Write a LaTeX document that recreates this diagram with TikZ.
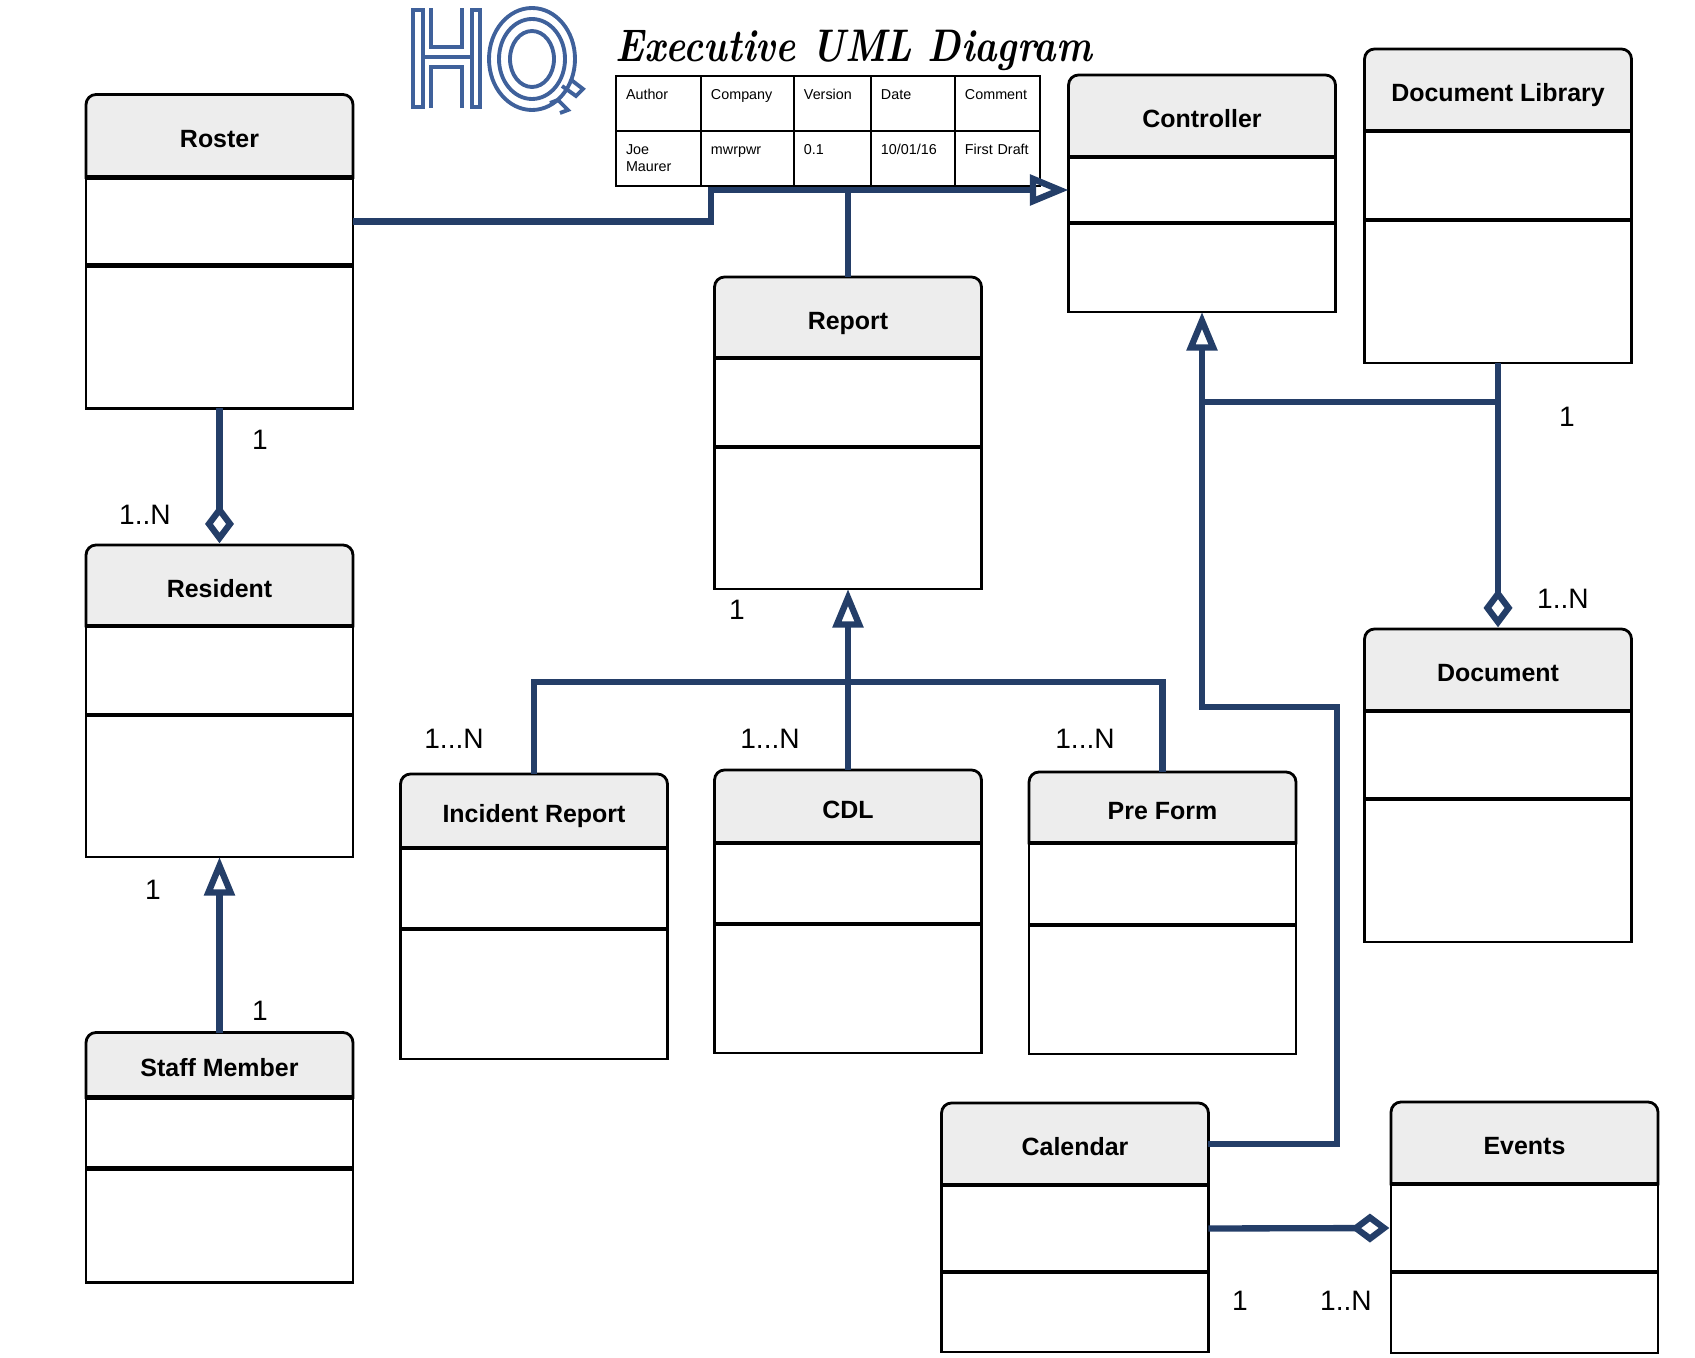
\documentclass[tikz,border=0pt]{standalone}
\usepackage{fontspec}
\setsansfont{Liberation Sans}
\usetikzlibrary{positioning,arrows.meta,backgrounds}
\definecolor{connblue}{HTML}{243E68}
\definecolor{logoblue}{HTML}{3F619B}
\definecolor{headgray}{HTML}{EDEDED}

\begin{document}
\begin{tikzpicture}[
    x=0.02cm,y=-0.02cm,
    classhead/.style={rectangle, minimum width=5.34cm, minimum height=#1*0.02cm, inner sep=0pt, outer sep=0pt, text height=13.5pt, text depth=0pt, font=\sffamily\bfseries\fontsize{14.2}{16}\selectfont},
    classpart/.style={rectangle, draw=black, line width=1.6pt, minimum width=5.34cm, minimum height=#1*0.02cm, inner sep=0pt, outer sep=0pt},
    tablecell/.style={rectangle, draw=black, line width=1.1pt, text width=(#1-20)*0.02cm, inner xsep=0.2cm, inner ysep=0pt, outer sep=0pt, text height=0.48cm, text depth=0.62cm, align=left, font=\sffamily\fontsize{8.16}{9.64}\selectfont},
    multlabel/.style={inner sep=0pt, font=\sffamily\fontsize{16}{18}\selectfont},
    conn/.style={draw=connblue, line width=3.6pt},
    inherit/.style={conn, -{Triangle[open, length=22pt, width=17pt]}},
    aggregate/.style={conn, shorten >=1pt, -{Diamond[open, length=22pt, width=16.5pt]}},
    logoline/.style={draw=logoblue, line width=2.2pt},
    ]
\useasboundingbox (0,0) rectangle (1695,1358);

%Logo
\draw[logoline] (412.7,10) rectangle (423.3,107);
\draw[logoline] (471.7,10) rectangle (480,107);
\draw[logoline] (423.3,57.3) -- (471.7,57.3);
\draw[logoline] (430.7,8.5) -- (430.7,47.3) -- (462.3,47.3) -- (462.3,8.5);
\draw[logoline] (430.7,108) -- (430.7,67.3) -- (462.3,67.3) -- (462.3,108);
\draw[logoline] (532,59) ellipse [x radius=43, y radius=51];
\draw[logoline] (532,59) ellipse [x radius=33, y radius=40];
\draw[logoline] (532,59) ellipse [x radius=22, y radius=28];
\draw[logoline] (562,86) -- (576,96) -- (583,89) -- (570,79);
\draw[logoline] (550,103) -- (558,100) -- (568,110) -- (560,113);

%Title and table
\node (Title) at (854,50) {\scalebox{0.83}[1]{\fontsize{26}{30}\selectfont\bfseries\itshape Executive UML Diagram}};
\node[tablecell=85, anchor=north west] (Author) at (616,76) {Author};
\node[tablecell=93, right=0pt of Author] (Company) {Company};
\node[tablecell=77, right=0pt of Company] (Version) {Version};
\node[tablecell=84, right=0pt of Version] (Date) {Date};
\node[tablecell=85, right=0pt of Date] (Comment) {Comment};
\node[tablecell=85, below=0pt of Author] (AuthorVal) {Joe\\Maurer};
\node[tablecell=93, right=0pt of AuthorVal] (CompanyVal) {mwrpwr};
\node[tablecell=77, right=0pt of CompanyVal] (VersionVal) {0.1};
\node[tablecell=84, right=0pt of VersionVal] (DateVal) {10/01/16};
\node[tablecell=85, right=0pt of DateVal] (CommentVal) {First Draft};

%Nodes
\node[classhead=83]      (Roster)       at (219.5,136)  {Roster};
\node[classpart=88]      (RosterAttr)   [below=0pt of Roster] {};
\node[classpart=143]     (RosterOps)    [below=0pt of RosterAttr] {};
\node[classhead=81]      (Resident)     at (219.5,585.5) {Resident};
\node[classpart=89]      (ResidentAttr) [below=0pt of Resident] {};
\node[classpart=142]     (ResidentOps)  [below=0pt of ResidentAttr] {};
\node[classhead=65]      (Staff)        at (219.5,1065) {Staff Member};
\node[classpart=71]      (StaffAttr)    [below=0pt of Staff] {};
\node[classpart=114]     (StaffOps)     [below=0pt of StaffAttr] {};
\node[classhead=81]      (Report)       at (848,317.5)  {Report};
\node[classpart=89]      (ReportAttr)   [below=0pt of Report] {};
\node[classpart=142]     (ReportOps)    [below=0pt of ReportAttr] {};
\node[classhead=82]      (Controller)   at (1202,116)   {Controller};
\node[classpart=66]      (ControllerAttr) [below=0pt of Controller] {};
\node[classpart=89]      (ControllerOps) [below=0pt of ControllerAttr] {};
\node[classhead=82]      (Library)      at (1498,90)    {Document Library};
\node[classpart=89]      (LibraryAttr)  [below=0pt of Library] {};
\node[classpart=143]     (LibraryOps)   [below=0pt of LibraryAttr] {};
\node[classhead=82]      (Document)     at (1498,670)   {Document};
\node[classpart=88]      (DocumentAttr) [below=0pt of Document] {};
\node[classpart=143]     (DocumentOps)  [below=0pt of DocumentAttr] {};
\node[classhead=74]      (Incident)     at (534,811)    {Incident Report};
\node[classpart=81]      (IncidentAttr) [below=0pt of Incident] {};
\node[classpart=130]     (IncidentOps)  [below=0pt of IncidentAttr] {};
\node[classhead=73]      (CDL)          at (848,806.5)  {CDL};
\node[classpart=81]      (CDLAttr)      [below=0pt of CDL] {};
\node[classpart=129]     (CDLOps)       [below=0pt of CDLAttr] {};
\node[classhead=71]      (PreForm)      at (1162.5,807.5) {Pre Form};
\node[classpart=82]      (PreFormAttr)  [below=0pt of PreForm] {};
\node[classpart=129]     (PreFormOps)   [below=0pt of PreFormAttr] {};
\node[classhead=82]      (Calendar)     at (1075,1144)  {Calendar};
\node[classpart=87]      (CalendarAttr) [below=0pt of Calendar] {};
\node[classpart=80]      (CalendarOps)  [below=0pt of CalendarAttr] {};
\node[classhead=82]      (Events)       at (1524.5,1143) {Events};
\node[classpart=88]      (EventsAttr)   [below=0pt of Events] {};
\node[classpart=81]      (EventsOps)    [below=0pt of EventsAttr] {};

%Rounded tops and thick separators
\begin{scope}[on background layer]
\foreach \cls in {Roster,Resident,Staff,Report,Controller,Library,Document,Incident,CDL,PreForm,Calendar,Events}
    \draw[fill=headgray, line width=1.6pt] (\cls.south west) [rounded corners=0.2cm] -- (\cls.north west) -- (\cls.north east) [sharp corners] -- (\cls.south east) -- cycle;
\end{scope}
\foreach \cls in {Roster,Resident,Staff,Report,Controller,Library,Document,Incident,CDL,PreForm,Calendar,Events}
    \draw[line width=2.4pt] (\cls.south west) -- (\cls.south east) (\cls Attr.south west) -- (\cls Attr.south east);

%Bend points
\coordinate (rosterStep) at (711,190);
\coordinate (calendarBend) at (1337,707);
\coordinate (libraryJoin) at (1498,402);
\coordinate (reportBus) at (848,682);

%Lines
\draw[inherit] (RosterAttr.east) -| (rosterStep) -- (ControllerAttr.west);
\draw[conn] (Report.north) -- (Report.north |- ControllerAttr.west);
\draw[aggregate] (RosterOps.south) -- (Resident.north);
\draw[inherit] (Staff.north) -- (ResidentOps.south);
\draw[inherit] (CDL.north) -- (ReportOps.south);
\draw[conn] (Incident.north) |- (reportBus);
\draw[conn] (PreForm.north) |- (reportBus);
\draw[aggregate] (LibraryOps.south) -- (Document.north);
\draw[conn] (libraryJoin) -- (ControllerOps.south |- libraryJoin);
\draw[inherit] (Calendar.east) -| (calendarBend) -| (ControllerOps.south);
\draw[aggregate] (CalendarAttr.east) -- (EventsAttr.west);

%Multiplicities
\node[multlabel] (RosterOne)    at (260,440)  {1};
\node[multlabel] (ResidentMany) at (145,515)  {1..N};
\node[multlabel] (ResidentOne)  at (153,890)  {1};
\node[multlabel] (StaffOne)     at (260,1011) {1};
\node[multlabel] (ReportOne)    at (737,610)  {1};
\node[multlabel] (IncidentMany) at (454,739)  {1...N};
\node[multlabel] (CDLMany)      at (770,739)  {1...N};
\node[multlabel] (PreFormMany)  at (1085,739) {1...N};
\node[multlabel] (LibraryOne)   at (1567,417) {1};
\node[multlabel] (DocumentMany) at (1563,599) {1..N};
\node[multlabel] (CalendarOne)  at (1240,1301) {1};
\node[multlabel] (EventsMany)   at (1346,1301) {1..N};
\end{tikzpicture}
\end{document}
